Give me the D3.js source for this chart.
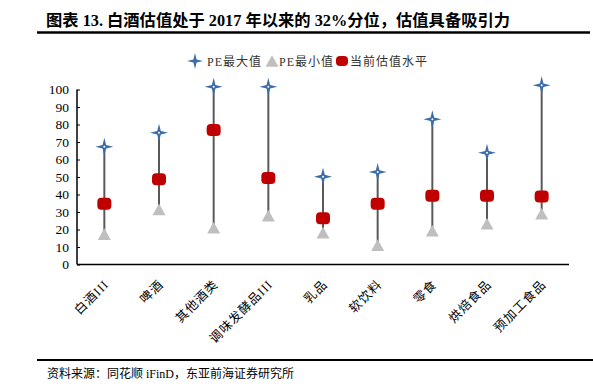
<!DOCTYPE html>
<html><head><meta charset="utf-8">
<script src="https://cdn.jsdelivr.net/npm/d3@7"></script>
<style>body{margin:0;background:#fff}</style>
</head><body>
<svg id="c" width="593" height="389"></svg>
<script>
const categories = ["白酒III","啤酒","其他酒类","调味发酵品III","乳品","软饮料","零食","烘焙食品","预加工食品"];
const peMax = [67.3,75.3,101.6,101.6,50.2,52.9,83,63.9,102.4];
const peMin = [17.4,31.5,21,27.9,18.2,11.1,19.3,23.3,29];
const peNow = [34.7,48.7,76.9,49.4,26.4,34.7,39.3,39.3,38.8];
const yTicks = [0,10,20,30,40,50,60,70,80,90,100];
const legendLabels = ["PE最大值","PE最小值","当前估值水平"];

const svg = d3.select("#c");
const cjk = "'Liberation Serif','Noto Sans CJK SC',serif";
const x = d3.scaleBand().domain(categories).range([77,569]);
const y = d3.scaleLinear().domain([0,100]).range([264.5,89.5]);

// title
svg.append("text").attr("x",46).attr("y",26).attr("font-family",cjk).attr("font-weight","bold")
  .attr("font-size",16.3).attr("fill","#000").text("图表 13. 白酒估值处于 2017 年以来的 32%分位，估值具备吸引力");
svg.append("line").attr("x1",37).attr("x2",590).attr("y1",32.5).attr("y2",32.5).attr("stroke","#000").attr("stroke-width",2.3);
svg.append("line").attr("x1",37).attr("x2",593).attr("y1",360).attr("y2",360).attr("stroke","#000").attr("stroke-width",2);
svg.append("text").attr("x",47).attr("y",378).attr("font-family",cjk).attr("font-size",12).attr("fill","#000")
  .text("资料来源：同花顺 iFinD，东亚前海证券研究所");

// axes
const yAxis = d3.axisLeft(y).tickValues(yTicks).tickSize(-3).tickPadding(8);
const gy = svg.append("g").attr("transform","translate(77,0)").call(yAxis);
gy.select(".domain").attr("stroke","#000").attr("stroke-width",1.5).attr("d","M0,"+y(100)+"V"+y(0));
gy.selectAll(".tick line").attr("stroke","#000");
gy.selectAll(".tick text").attr("font-family","'Liberation Serif',serif").attr("font-size",13.5).attr("fill","#000");

svg.append("line").attr("x1",77).attr("x2",569).attr("y1",y(0)).attr("y2",y(0)).attr("stroke","#000").attr("stroke-width",1.5);

// x labels
svg.selectAll(".xl").data(categories).enter().append("text")
  .attr("transform",d=>`translate(${x(d)+x.bandwidth()/2-1},${279}) rotate(-45)`)
  .attr("text-anchor","end").attr("dy","0.7em").attr("letter-spacing",1)
  .attr("font-family",cjk).attr("font-size",12.5).attr("fill","#000").text(d=>d);

// high-low lines
svg.selectAll(".hl").data(categories).enter().append("line")
  .attr("x1",d=>x(d)+x.bandwidth()/2).attr("x2",d=>x(d)+x.bandwidth()/2)
  .attr("y1",(d,i)=>y(peMax[i])).attr("y2",(d,i)=>y(peMin[i]))
  .attr("stroke","#595959").attr("stroke-width",2);

function star(cx,cy,r){
  const s=r*0.2;
  return `M${cx},${cy-r}L${cx+s},${cy-s}L${cx+r},${cy}L${cx+s},${cy+s}L${cx},${cy+r}L${cx-s},${cy+s}L${cx-r},${cy}L${cx-s},${cy-s}Z`;
}
function tri(cx,cy,w){
  const h=w*0.9;
  return `M${cx},${cy-h/2}L${cx+w/2},${cy+h/2}L${cx-w/2},${cy+h/2}Z`;
}
// min triangles
svg.selectAll(".mn").data(categories).enter().append("path")
  .attr("d",(d,i)=>tri(x(d)+x.bandwidth()/2,y(peMin[i]),13)).attr("fill","#BFBFBF");
// max stars
svg.selectAll(".mx").data(categories).enter().append("path")
  .attr("d",(d,i)=>star(x(d)+x.bandwidth()/2,y(peMax[i]),9)).attr("fill","#3C6DA6");
svg.selectAll(".mxc").data(categories).enter().append("circle")
  .attr("cx",d=>x(d)+x.bandwidth()/2).attr("cy",(d,i)=>y(peMax[i])).attr("r",1).attr("fill","#fff");
// current
svg.selectAll(".nw").data(categories).enter().append("rect")
  .attr("x",d=>x(d)+x.bandwidth()/2-7).attr("y",(d,i)=>y(peNow[i])-6)
  .attr("width",14).attr("height",12).attr("rx",4).attr("fill","#C00000");

// legend
const lg = svg.append("g");
lg.append("path").attr("d",star(195,61,8)).attr("fill","#3C6DA6");
lg.append("text").attr("x",207).attr("y",65.5).text(legendLabels[0]);
lg.append("path").attr("d",tri(272,61,13)).attr("fill","#BFBFBF");
lg.append("text").attr("x",279).attr("y",65.5).text(legendLabels[1]);
lg.append("rect").attr("x",336).attr("y",56).attr("width",12).attr("height",10).attr("rx",4).attr("fill","#C00000");
lg.append("text").attr("x",350).attr("y",65.5).text(legendLabels[2]);
lg.selectAll("text").attr("font-family",cjk).attr("font-size",12).attr("letter-spacing",1).attr("fill","#333");
</script>
</body></html>
